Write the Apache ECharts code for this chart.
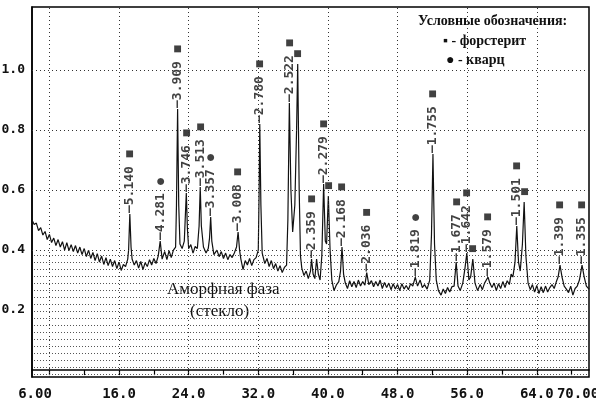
<!DOCTYPE html>
<html><head><meta charset="utf-8">
<script src="https://cdn.jsdelivr.net/npm/echarts@6/dist/echarts.min.js"></script>
<style>html,body{margin:0;padding:0;background:#fff}#c{width:596px;height:405px}</style>
</head><body><div id="c"></div>
<script>
// XRD pattern: [2theta, intensity]
const pattern = [
[6.0,0.50],[6.25,0.485],[6.5,0.49],[6.75,0.465],[7.0,0.475],[7.25,0.45],[7.5,0.462],[7.75,0.435],
[8.0,0.452],[8.25,0.425],[8.5,0.44],[8.75,0.415],[9.0,0.435],[9.25,0.41],[9.5,0.428],[9.75,0.40],
[10.0,0.425],[10.25,0.398],[10.5,0.418],[10.75,0.395],[11.0,0.415],[11.25,0.39],[11.5,0.41],[11.75,0.385],
[12.0,0.405],[12.25,0.378],[12.5,0.40],[12.75,0.372],[13.0,0.392],[13.25,0.365],[13.5,0.388],[13.75,0.36],
[14.0,0.38],[14.25,0.352],[14.5,0.375],[14.75,0.348],[15.0,0.37],[15.25,0.345],[15.5,0.365],[15.75,0.338],
[16.0,0.36],[16.25,0.332],[16.5,0.352],[16.75,0.345],[17.0,0.37],[17.1,0.40],[17.24,0.52],[17.38,0.41],
[17.5,0.37],[17.75,0.35],[18.0,0.365],[18.25,0.34],[18.5,0.362],[18.75,0.335],[19.0,0.358],[19.25,0.345],
[19.5,0.368],[19.75,0.35],[20.0,0.372],[20.25,0.355],[20.5,0.38],[20.73,0.43],[20.95,0.37],[21.25,0.395],
[21.5,0.368],[21.75,0.398],[22.0,0.375],[22.25,0.40],[22.5,0.41],[22.6,0.55],[22.73,0.87],[22.86,0.55],
[23.0,0.42],[23.25,0.405],[23.5,0.43],[23.6,0.50],[23.73,0.59],[23.86,0.47],[24.0,0.405],[24.25,0.418],
[24.5,0.39],[24.75,0.412],[25.0,0.405],[25.2,0.48],[25.33,0.61],[25.46,0.48],[25.7,0.41],[26.0,0.39],
[26.25,0.405],[26.4,0.44],[26.53,0.51],[26.66,0.43],[26.9,0.385],[27.25,0.40],[27.5,0.378],[27.75,0.395],
[28.0,0.372],[28.25,0.39],[28.5,0.368],[28.75,0.385],[29.0,0.375],[29.25,0.39],[29.5,0.41],[29.68,0.46],
[29.85,0.40],[30.0,0.37],[30.25,0.335],[30.5,0.365],[30.75,0.35],[31.0,0.372],[31.25,0.348],[31.5,0.368],
[31.75,0.375],[32.0,0.40],[32.1,0.60],[32.17,0.82],[32.3,0.55],[32.45,0.39],[32.75,0.355],[33.0,0.372],
[33.25,0.345],[33.5,0.365],[33.75,0.338],[34.0,0.355],[34.25,0.33],[34.5,0.348],[34.75,0.325],[35.0,0.342],
[35.25,0.35],[35.4,0.50],[35.57,0.89],[35.75,0.60],[35.95,0.46],[36.2,0.55],[36.4,0.80],[36.53,1.02],
[36.7,0.60],[36.85,0.38],[37.0,0.34],[37.25,0.315],[37.5,0.33],[37.75,0.305],[38.0,0.33],[38.12,0.37],
[38.3,0.32],[38.5,0.305],[38.7,0.37],[38.9,0.32],[39.1,0.30],[39.3,0.38],[39.51,0.62],[39.7,0.43],
[39.85,0.42],[40.05,0.58],[40.25,0.40],[40.45,0.30],[40.7,0.265],[41.0,0.285],[41.25,0.295],[41.45,0.33],
[41.62,0.41],[41.8,0.32],[42.0,0.29],[42.25,0.272],[42.5,0.298],[42.75,0.278],[43.0,0.295],[43.25,0.275],
[43.5,0.30],[43.75,0.28],[44.0,0.295],[44.25,0.283],[44.46,0.325],[44.7,0.285],[45.0,0.298],[45.25,0.278],
[45.5,0.295],[45.75,0.28],[46.0,0.30],[46.25,0.272],[46.5,0.292],[46.75,0.275],[47.0,0.29],[47.25,0.268],
[47.5,0.288],[47.75,0.27],[48.0,0.285],[48.25,0.265],[48.5,0.288],[48.75,0.27],[49.0,0.282],[49.25,0.268],
[49.5,0.288],[49.75,0.28],[50.04,0.31],[50.3,0.28],[50.6,0.30],[50.85,0.275],[51.1,0.285],[51.4,0.27],
[51.7,0.30],[51.9,0.45],[52.07,0.72],[52.25,0.42],[52.45,0.30],[52.7,0.265],[53.0,0.25],[53.25,0.27],
[53.5,0.255],[53.75,0.275],[54.0,0.26],[54.25,0.278],[54.5,0.28],[54.74,0.36],[54.95,0.28],[55.2,0.265],
[55.5,0.29],[55.75,0.34],[55.96,0.39],[56.2,0.30],[56.4,0.31],[56.65,0.37],[56.9,0.29],[57.2,0.265],
[57.5,0.285],[57.75,0.268],[58.0,0.29],[58.2,0.295],[58.4,0.31],[58.6,0.29],[58.85,0.275],[59.1,0.29],
[59.35,0.265],[59.6,0.288],[59.85,0.272],[60.1,0.295],[60.35,0.275],[60.6,0.298],[60.85,0.285],[61.05,0.32],
[61.25,0.31],[61.5,0.36],[61.7,0.48],[61.9,0.36],[62.1,0.33],[62.35,0.42],[62.55,0.56],[62.75,0.38],
[63.0,0.29],[63.25,0.268],[63.5,0.285],[63.75,0.26],[64.0,0.282],[64.25,0.255],[64.5,0.278],[64.75,0.258],
[65.0,0.28],[65.25,0.26],[65.5,0.275],[65.75,0.285],[66.0,0.272],[66.25,0.295],[66.45,0.31],[66.67,0.35],
[66.9,0.31],[67.15,0.28],[67.4,0.27],[67.65,0.258],[67.9,0.28],[68.15,0.25],[68.4,0.272],[68.65,0.28],
[68.9,0.30],[69.2,0.35],[69.45,0.31],[69.7,0.28],[70.0,0.27]
];

// Identified peaks
const peakPos   = [17.24,20.73,22.73,23.73,25.33,26.53,29.68,32.17,35.57,36.53,38.12,39.51,40.05,41.62,44.46,50.04,52.07,54.74,55.96,56.65,58.4,61.7,62.55,66.67,69.2];
const peakD     = ['5.140','4.281','3.909','3.746','3.513','3.357','3.008','2.780','2.522','','2.359','2.279','','2.168','2.036','1.819','1.755','1.677','1.642','','1.579','1.501','','1.399','1.355'];
const peakPhase = ['F','Q','F','F','F','Q','F','F','F','F','F','F','F','F','F','Q','F','F','F','F','F','F','F','F','F'];

const xLabelValues = [6,16,24,32,40,48,56,64,70];
const xTickValues  = [8,12,16,20,24,28,32,36,40,44,48,52,56,60,64,68];
const xGridValues  = [8,16,24,32,40,48,56,64];
const yLabelValues = [0.2,0.4,0.6,0.8,1.0];
const yGridValues  = [0.4,0.6,0.8,1.0];
const amorphTop = 0.4;

const phaseMark = {F:'■', Q:'●'};
function yAt(x){ for (const p of pattern) if (Math.abs(p[0]-x)<1e-6) return p[1]; return 0; }

// dot-matrix pattern for the amorphous zone
const pc = document.createElement('canvas');
pc.width = 3; pc.height = 7;
const pctx = pc.getContext('2d');
pctx.fillStyle = '#555';
pctx.fillRect(1, 3, 1, 1);

const mono = '"DejaVu Sans Mono", monospace';
const serif = '"Liberation Serif", "DejaVu Serif", serif';
const xl = {fontFamily: mono, fontWeight: 'bold', fontSize: 14, color: '#111'};

const chart = echarts.init(document.getElementById('c'), null, {renderer:'canvas'});
chart.setOption({
  animation: false,
  backgroundColor: '#fff',
  grid: {left: 32, right: 7, top: 7, bottom: 28, show: true, borderColor: '#000', borderWidth: 1.5,
         containLabel: false, outerBoundsMode: 'none'},
  xAxis: {
    type: 'value', min: 6, max: 70, interval: 2,
    axisLine: {show: true, lineStyle: {color: '#000', width: 1.5}},
    axisTick: {show: true, customValues: xTickValues, length: 5, lineStyle: {color: '#000', width: 1.2}},
    axisLabel: Object.assign({
      customValues: xLabelValues, margin: 10,
      formatter: v => v === 70 ? '{r|70.00}' : (v === 6 ? '{l|6.00}' : v.toFixed(1)),
      rich: {r: Object.assign({padding: [0, 22, 0, 0]}, xl), l: Object.assign({padding: [0, 0, 0, 6]}, xl)}
    }, xl),
    splitLine: {show: false}
  },
  yAxis: {
    type: 'value', min: -0.023, max: 1.21,
    axisLine: {show: true, lineStyle: {color: '#000', width: 1.5}},
    axisTick: {show: false},
    axisLabel: {
      customValues: yLabelValues, margin: 7,
      fontFamily: mono, fontWeight: 'bold', fontSize: 13, color: '#111',
      formatter: v => v.toFixed(1)
    },
    splitLine: {show: false}
  },
  series: [
    {
      type: 'line', data: [], z: 1, silent: true,
      markArea: {
        silent: true, label: {show: false},
        itemStyle: {color: {image: pc, repeat: 'repeat'}},
        data: [[{xAxis: 6, yAxis: -0.023}, {xAxis: 70, yAxis: amorphTop}]]
      },
      markLine: {
        silent: true, symbol: 'none', label: {show: false}, animation: false,
        lineStyle: {type: [1, 3], color: '#333', width: 1},
        data: xGridValues.map(v => ({xAxis: v})).concat(yGridValues.map(v => ({yAxis: v})))
      }
    },
    {
      type: 'line', data: pattern, z: 3, symbol: 'none', silent: true,
      lineStyle: {color: '#111', width: 1.2}
    },
    {
      type: 'scatter', z: 4, symbolSize: 0, silent: true,
      data: peakPos.map((x, i) => ({
        value: [x, yAt(x)],
        label: {
          distance: peakD[i] ? 1 : 6,
          formatter: peakD[i] ? ('—' + peakD[i] + ' {m|' + phaseMark[peakPhase[i]] + '}') : '{m|' + phaseMark[peakPhase[i]] + '}'
        }
      })),
      label: {
        show: true, position: 'top', rotate: 90, align: 'left', verticalAlign: 'middle',
        fontFamily: mono, fontSize: 13, fontWeight: 'bold', color: '#111',
        rich: {m: {fontFamily: '"DejaVu Sans", sans-serif', fontSize: 9, color: '#111'}}
      }
    }
  ],
  graphic: [
    {type: 'text', left: 418, top: 14, silent: true, style: {text: 'Условные обозначения:', font: 'bold 14px ' + serif, fill: '#111'}},
    {type: 'text', left: 443, top: 34, silent: true, style: {text: '▪ - форстерит', font: 'bold 14px ' + serif, fill: '#111'}},
    {type: 'text', left: 446, top: 53, silent: true, style: {text: '● - кварц', font: 'bold 14px ' + serif, fill: '#111'}},
    {type: 'text', left: 167, top: 281, silent: true, style: {text: 'Аморфная фаза', font: '17px ' + serif, fill: '#111'}},
    {type: 'text', left: 190, top: 303, silent: true, style: {text: '(стекло)', font: '17px ' + serif, fill: '#111'}}
  ]
});
</script></body></html>
